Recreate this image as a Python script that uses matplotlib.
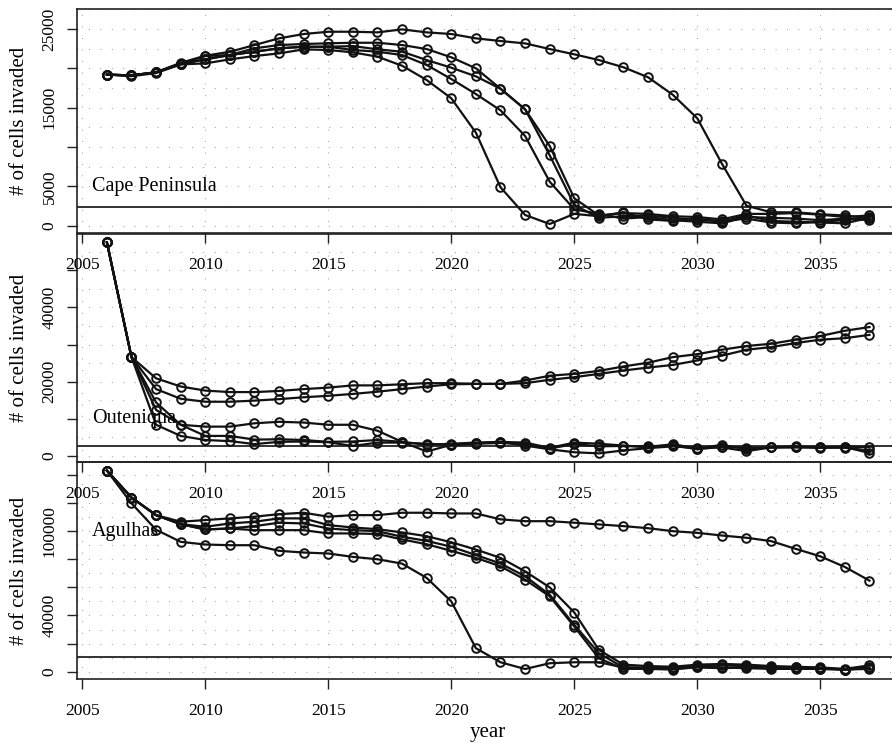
import matplotlib.pyplot as plt

plt.rcParams['font.family'] = ['Liberation Serif', 'DejaVu Serif']

years = list(range(2006, 2038))

# Cape Peninsula, five runs
cape_a = [19200, 19100, 19500, 20700, 21600, 22100, 22960, 23810, 24360, 24650,
          24650, 24570, 24950, 24570, 24360, 23810, 23470, 23170, 22450, 21780,
          21050, 20130, 18860, 16650, 13650, 7880, 2540, 1700, 1700, 1450, 1300, 940]
cape_b = [19200, 19100, 19500, 20500, 20630, 21140, 21560, 21900, 22410, 22330,
          22030, 21480, 20330, 18510, 16190, 11820, 4880, 1360, 216, 1500,
          1200, 1700, 800, 600, 900, 500, 1300, 600, 500, 400, 300, 1000]
cape_c = [19200, 19100, 19500, 20600, 21140, 21690, 22110, 22540, 22740, 22740,
          22330, 22110, 21690, 20420, 18640, 16730, 14660, 11400, 5590, 2080,
          1500, 900, 1100, 700, 500, 300, 1100, 1000, 900, 700, 900, 700]
cape_d = [19200, 19100, 19500, 20600, 21560, 21690, 22540, 22960, 23090, 23180,
          23250, 23250, 22960, 22450, 21400, 20000, 17410, 14790, 10130, 3480,
          1300, 1600, 1500, 1200, 1100, 800, 1500, 1500, 1600, 1400, 1100, 1300]
cape_e = [19200, 19000, 19400, 20500, 21140, 21690, 22110, 22540, 22740, 22740,
          22830, 22410, 22110, 21050, 20080, 18980, 17410, 14790, 8950, 2630,
          1000, 1200, 1300, 1000, 700, 600, 900, 400, 300, 500, 700, 1100]

# Outeniqua, five runs
out_a = [57500, 26600, 20900, 18700, 17600, 17200, 17200, 17500, 18000, 18400,
         19000, 19000, 19300, 19600, 19600, 19400, 19400, 20300, 21600, 22100,
         22900, 24100, 25100, 26600, 27400, 28600, 29600, 30200, 31300, 32300, 33700, 34700]
out_b = [57500, 26600, 18000, 15400, 14600, 14600, 14900, 15300, 15800, 16200,
         16700, 17300, 18000, 18700, 19300, 19400, 19400, 19600, 20500, 21200,
         22100, 23000, 23800, 24500, 25700, 27000, 28600, 29300, 30400, 31300, 31700, 32600]
out_c = [57500, 26600, 12400, 8400, 7900, 7900, 8800, 9200, 9000, 8400,
         8400, 6800, 3800, 1200, 3000, 3300, 3500, 3200, 2000, 3200,
         2600, 2700, 2600, 2900, 1800, 2500, 2200, 2300, 2400, 2200, 2400, 800]
out_d = [57500, 26600, 14400, 8400, 5400, 5400, 4400, 4500, 4300, 3800,
         3900, 4300, 3800, 3000, 3300, 3600, 3800, 3600, 2200, 3600,
         3300, 2800, 2300, 3200, 2000, 3000, 1800, 2300, 2600, 2300, 2500, 2400]
out_e = [57500, 26600, 8400, 5400, 4300, 4000, 3200, 3800, 3900, 3700,
         2700, 3600, 3600, 3300, 3000, 3400, 3800, 2800, 1800, 1000,
         700, 1500, 2100, 2600, 2100, 2300, 1300, 2300, 2300, 2300, 2200, 1500]

# Agulhas, five runs
agu_a = [143100, 123900, 111400, 106700, 107900, 109100, 110300, 112100, 113100, 110300,
         111400, 111400, 113100, 113100, 112600, 112600, 108400, 107100, 107100, 106000,
         104800, 103600, 102100, 100000, 98800, 96900, 95300, 92900, 87400, 82100, 74500, 64800]
agu_b = [143100, 123900, 111400, 105000, 103100, 105500, 106700, 109100, 109100, 104300,
         102600, 101400, 99100, 96400, 92100, 86900, 81000, 71400, 60000, 42100,
         15500, 5000, 4000, 3500, 5000, 5500, 5000, 4000, 3500, 3000, 2000, 4500]
agu_c = [143100, 123900, 111400, 105000, 101200, 101900, 103600, 106000, 105500, 101900,
         100700, 100000, 96000, 93100, 88900, 83000, 77000, 67900, 54800, 33300,
         13100, 3000, 2500, 2500, 4000, 4500, 4000, 3000, 3000, 2500, 1500, 2000]
agu_d = [143100, 123900, 111400, 105000, 101200, 101900, 100700, 100700, 100700, 98400,
         98400, 98000, 94100, 90700, 86000, 81000, 75000, 65500, 53600, 32100,
         9500, 2000, 2000, 1500, 3500, 3000, 2500, 2000, 2000, 2000, 1500, 3000]
agu_e = [143100, 119800, 101000, 92400, 90500, 90000, 90000, 86000, 84800, 84100,
         81700, 80000, 76900, 66700, 50000, 16700, 6700, 1900, 6000, 6700,
         6700, 3000, 3000, 2000, 3000, 2500, 3000, 2500, 2500, 2000, 1500, 2500]

regions = ['Cape Peninsula', 'Outeniqua', 'Agulhas']
runs = [[cape_a, cape_b, cape_c, cape_d, cape_e],
        [out_a, out_b, out_c, out_d, out_e],
        [agu_a, agu_b, agu_c, agu_d, agu_e]]
thresholds = [2400, 2700, 10700]
label_y = [5000, 10000, 100000]
ylims = [(-930, 27540), (-1620, 59880), (-5210, 148860)]
yticks = [list(range(0, 25001, 5000)), list(range(0, 50001, 10000)), list(range(0, 140001, 20000))]
ylabeled = [[0, 5000, 15000, 25000], [0, 20000, 40000], [0, 40000, 100000]]
ygrid_step = [2500, 5000, 10000]
xticks = [2005, 2010, 2015, 2020, 2025, 2030, 2035]

W, H = 892, 746
fig = plt.figure(figsize=(W / 100, H / 100), dpi=100)

# panel boxes in pixels: (top, bottom); the plot area runs off the right edge
boxes = [(9, 233), (233.5, 462), (462.5, 679)]
left_px, right_px = 77, 900

for i, (top, bottom) in enumerate(boxes):
    ax = fig.add_axes([left_px / W, 1 - bottom / H, (right_px - left_px) / W, (bottom - top) / H])
    ax.set_facecolor('none')
    ax.set_zorder(3 - i)
    ax.set_xlim(2004.785, 2038.24)
    ax.set_ylim(*ylims[i])

    # dotted grid
    for gx in xticks:
        ax.axvline(gx, color='#9a9a9a', lw=0.8, dashes=(0.8, 9.5), zorder=0)
    for gy in range(0, int(ylims[i][1]), ygrid_step[i]):
        ax.axhline(gy, color='#9a9a9a', lw=0.8, dashes=(0.8, 9.5), zorder=0)

    ax.axhline(thresholds[i], color='#222222', lw=1.3, zorder=1)

    for series in runs[i]:
        ax.plot(years, series, color='#111111', lw=1.6, marker='o', ms=6.2,
                mfc='none', mec='#111111', mew=1.4, zorder=2)

    ax.text(2005.4, label_y[i], regions[i], ha='left', va='center', fontsize=14.5)

    ax.set_xticks(xticks)
    ax.set_xticklabels([str(x) for x in xticks])
    ax.set_yticks(yticks[i])
    ax.set_yticklabels([str(v) if v in ylabeled[i] else '' for v in yticks[i]])
    ax.tick_params(axis='both', direction='out', length=7, width=1, labelsize=12.5,
                   color='#222222')
    ax.tick_params(axis='x', pad=10)
    ax.tick_params(axis='y', pad=7)
    for lab in ax.get_yticklabels():
        lab.set_rotation(90)
        lab.set_va('center')
    for side in ['top', 'bottom', 'left', 'right']:
        ax.spines[side].set_linewidth(1.2)
        ax.spines[side].set_color('#222222')

    fig.text(19.5 / W, 1 - (top + bottom) / 2 / H, '# of cells invaded',
             rotation=90, ha='center', va='center', fontsize=15)

fig.text(488 / W, 1 - 733 / H, 'year', ha='center', va='center', fontsize=15)

fig.savefig('out.png', dpi=100)
